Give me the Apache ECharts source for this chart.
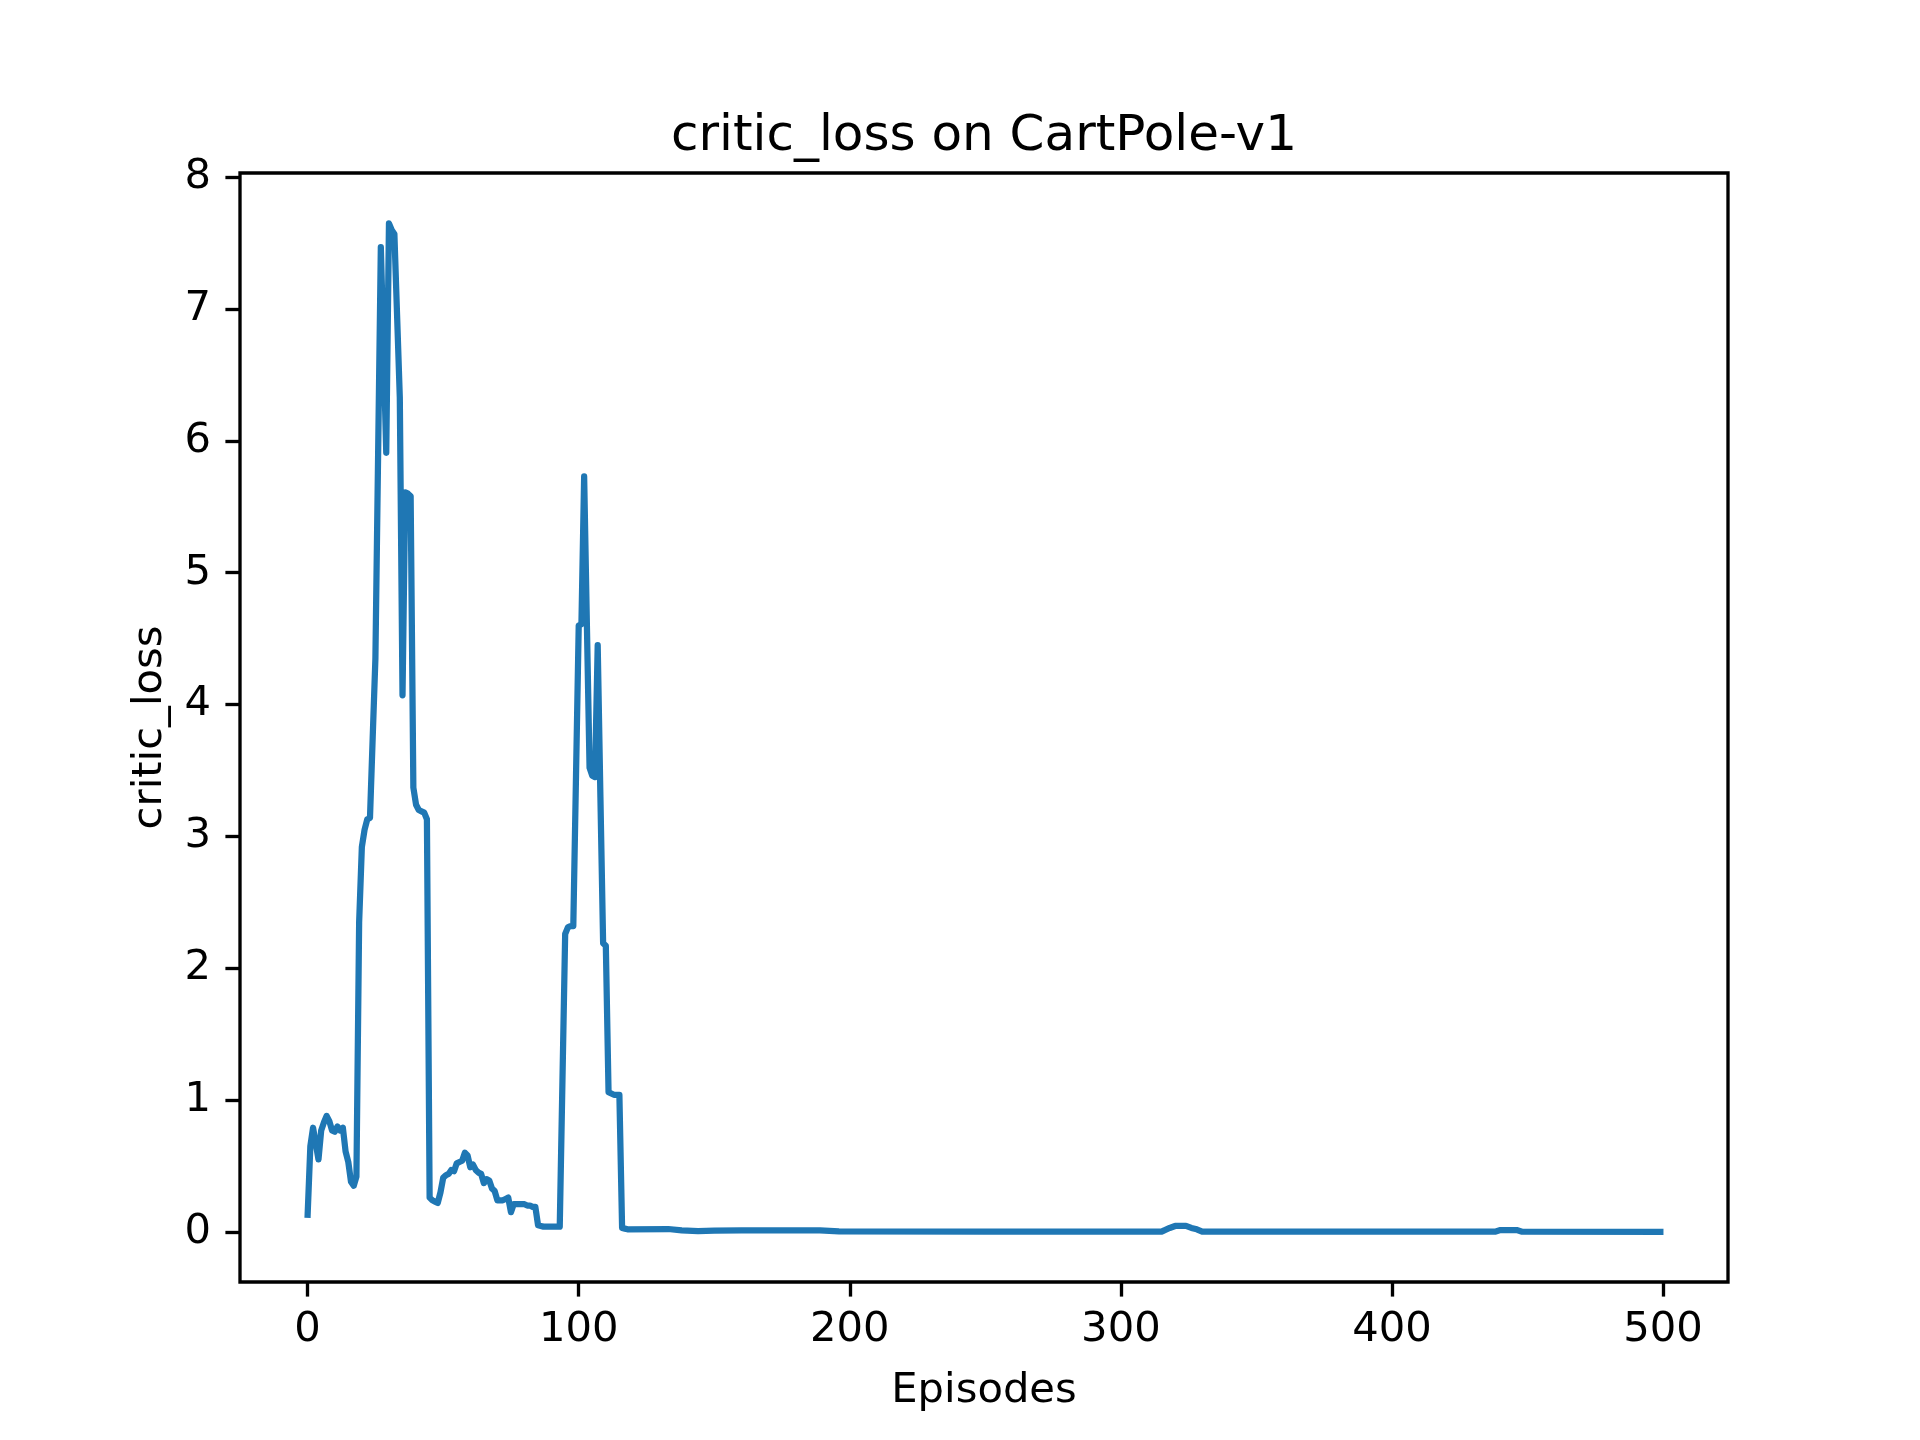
<!DOCTYPE html>
<html>
<head>
<meta charset="utf-8">
<script src="https://cdn.jsdelivr.net/npm/echarts@6/dist/echarts.min.js"></script>
<style>
html,body{margin:0;padding:0;background:#ffffff;}
#chart{width:1920px;height:1440px;}
</style>
</head>
<body>
<div id="chart"></div>
<script>
// ---- data ----
const titleText = 'critic_loss on CartPole-v1';
const xName = 'Episodes';
const yName = 'critic_loss';
const xTicks = [0, 100, 200, 300, 400, 500];
const yTicks = [0, 1, 2, 3, 4, 5, 6, 7, 8];

// episodes 0..118, one value each
const earlyLoss = [
  0.13, 0.65, 0.79, 0.67, 0.55, 0.77, 0.83, 0.88, 0.84, 0.77,
  0.76, 0.80, 0.77, 0.79, 0.61, 0.53, 0.38, 0.35, 0.42, 2.35,
  2.92, 3.05, 3.13, 3.14, 3.75, 4.35, 5.90, 7.47, 6.70, 5.91,
  7.65, 7.60, 7.57, 6.95, 6.33, 4.07, 5.61, 5.60, 5.58, 3.37,
  3.24, 3.20, 3.19, 3.18, 3.13, 0.26, 0.24, 0.23, 0.22, 0.30,
  0.41, 0.43, 0.44, 0.47, 0.46, 0.52, 0.53, 0.54, 0.60, 0.58,
  0.49, 0.51, 0.47, 0.45, 0.44, 0.37, 0.40, 0.39, 0.33, 0.31,
  0.24, 0.24, 0.24, 0.25, 0.26, 0.15, 0.21, 0.21, 0.21, 0.21,
  0.21, 0.20, 0.20, 0.19, 0.19, 0.05, 0.045, 0.04, 0.04, 0.04,
  0.04, 0.04, 0.04, 0.04, 1.15, 2.26, 2.31, 2.32, 2.32, 3.46,
  4.60, 4.61, 5.73, 4.62, 3.52, 3.46, 3.45, 4.45, 3.30, 2.19,
  2.17, 1.06, 1.05, 1.04, 1.04, 1.04, 0.03, 0.025, 0.02
];
// later episodes where the curve changes (flat tail)
const lateEpisodes = [133, 138, 144, 150, 160, 168, 189, 196, 250, 315, 316, 318, 320, 324, 326, 328, 330, 438, 440, 446, 448, 499];
const lateLoss     = [0.022, 0.012, 0.006, 0.010, 0.011, 0.012, 0.012, 0.004, 0.003, 0.002, 0.012, 0.030, 0.045, 0.046, 0.030, 0.020, 0.002, 0.002, 0.014, 0.014, 0.002, 0.001];

// ---- build series ----
const points = [];
earlyLoss.forEach((v, i) => points.push([i, v]));
lateEpisodes.forEach((e, i) => points.push([e, lateLoss[i]]));

const FONT = 'DejaVu Sans';
const tickStyle = { color: '#000000', width: 3.33 };

const chart = echarts.init(document.getElementById('chart'), null, { renderer: 'canvas', width: 1920, height: 1440 });
chart.setOption({
  animation: false,
  backgroundColor: '#ffffff',
  title: {
    text: titleText,
    left: 984,
    top: 112,
    textAlign: 'center',
    padding: 0,
    textStyle: { fontFamily: FONT, fontSize: 50, fontWeight: 'normal', color: '#000000' }
  },
  grid: {
    left: 240, right: 192, top: 173, bottom: 158,
    show: true, borderColor: '#000000', borderWidth: 3.33, backgroundColor: 'transparent',
    containLabel: false
  },
  xAxis: {
    type: 'value',
    min: -24.95, max: 523.95,
    splitLine: { show: false },
    axisLine: { show: false, onZero: false },
    axisTick: { show: true, inside: false, length: 14.6, lineStyle: tickStyle, customValues: xTicks },
    axisLabel: { show: true, margin: 27, fontFamily: FONT, fontSize: 41.7, color: '#000000', customValues: xTicks },
    name: xName,
    nameLocation: 'middle',
    nameGap: 88,
    nameTextStyle: { fontFamily: FONT, fontSize: 41.7, color: '#000000' }
  },
  yAxis: {
    type: 'value',
    min: -0.38, max: 8.032,
    splitLine: { show: false },
    axisLine: { show: false, onZero: false },
    axisTick: { show: true, inside: false, length: 14.6, lineStyle: tickStyle, customValues: yTicks },
    axisLabel: { show: true, margin: 29, fontFamily: FONT, fontSize: 41.7, color: '#000000', customValues: yTicks },
    name: yName,
    nameLocation: 'middle',
    nameGap: 69,
    nameTextStyle: { fontFamily: FONT, fontSize: 41.7, color: '#000000' }
  },
  series: [{
    type: 'line',
    data: points,
    showSymbol: false,
    symbol: 'none',
    lineStyle: { color: '#1f77b4', width: 6.25, cap: 'square', join: 'round' },
    silent: true
  }]
});
</script>
</body>
</html>
